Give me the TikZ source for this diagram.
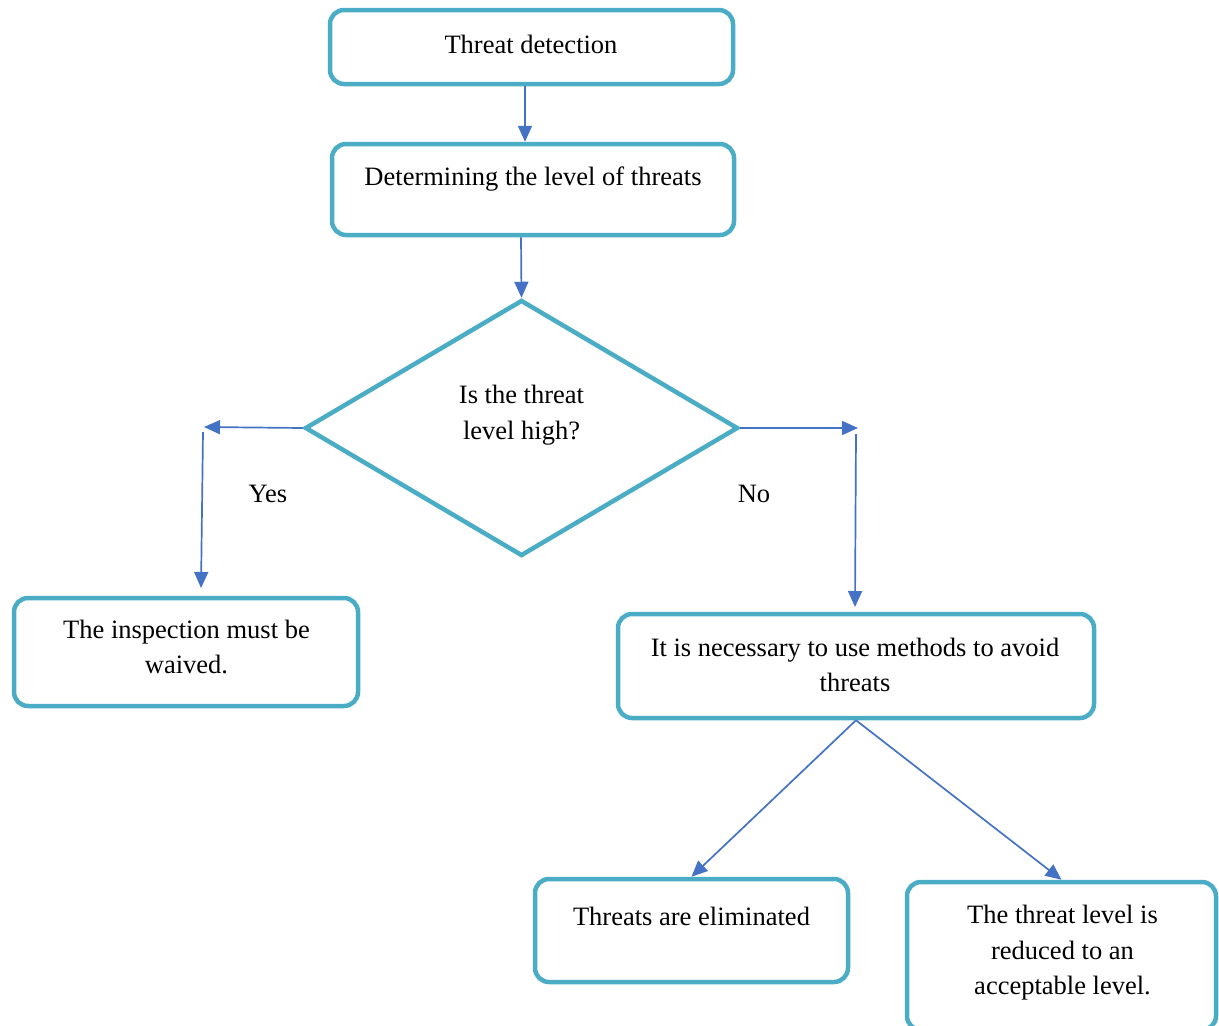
\documentclass[tikz,border=0pt]{standalone}
\usepackage{fontspec}
\setmainfont{Liberation Serif}
\usetikzlibrary{shapes.geometric, arrows.meta}

\definecolor{boxteal}{HTML}{4BACC6}
\definecolor{arrowblue}{HTML}{4472C4}

\tikzset{
  flowbox/.style = {draw=boxteal, line width=4.5pt, rounded corners=14pt, inner sep=0pt},
  decision/.style = {diamond, draw=boxteal, line width=4.5pt, inner sep=0pt},
  boxtext/.style = {align=center, inner sep=0pt, font=\fontsize{26.5}{35.5}\selectfont},
  flowarrow/.style = {draw=arrowblue, line width=1.7pt, -{Triangle[length=16pt, width=14pt]}}
}

\begin{document}
\begin{tikzpicture}[x=1pt, y=-1pt]

   \useasboundingbox (0,0) rectangle (1219,1026);
   \clip (0,0) rectangle (1219,1026);

   % Draw the boxes
   \node[flowbox, minimum width=403pt, minimum height=74pt] (detect) at (531.5,47) {};
   \node[flowbox, minimum width=402pt, minimum height=91pt] (level) at (533,189.5) {};
   \node[decision, minimum width=433pt, minimum height=256pt] (question) at (521.5,428) {};
   \node[flowbox, minimum width=344pt, minimum height=108pt] (inspect) at (186,652) {};
   \node[flowbox, minimum width=476pt, minimum height=104pt] (methods) at (856,666) {};
   \node[flowbox, minimum width=313pt, minimum height=103pt] (eliminated) at (691.5,930.5) {};
   \node[flowbox, minimum width=309pt, minimum height=148pt] (reduced) at (1061.5,956) {};

   % Texts in the boxes
   \node[boxtext] (detect-t) at (531,44) {Threat detection};
   \node[boxtext] (level-t) at (533,179) {Determining the level of threats};
   \node[boxtext] (question-t) at (521.5,415) {Is the threat\\level high?};
   \node[boxtext] (inspect-t) at (186.5,647) {The inspection must be\\waived.};
   \node[boxtext] (methods-t) at (855,665) {It is necessary to use methods to avoid\\threats};
   \node[boxtext] (eliminated-t) at (691.5,916) {Threats are eliminated};
   \node[boxtext] (reduced-t) at (1062.5,953) {The threat level is\\reduced to an\\acceptable level.};

   % Label the branches
   \node[boxtext] (yes) at (268,494) {Yes};
   \node[boxtext] (no) at (754,494) {No};

   % Free ends of the branch arrows
   \coordinate (yes-end) at (204,427);
   \coordinate (yes-top) at (203,432);
   \coordinate (yes-low) at (201,588);
   \coordinate (no-end) at (858,428);
   \coordinate (no-top) at (856,434);
   \coordinate (no-low) at (855,607);

   % Draw the arrows
   \draw[flowarrow] ([xshift=-6.5pt]detect.south) -- ([xshift=-8pt]level.north);
   \draw[flowarrow] ([xshift=-12pt]level.south) -- (question.north);
   \draw[flowarrow] (question.west) -- (yes-end);
   \draw[flowarrow] (yes-top) -- (yes-low);
   \draw[flowarrow] (question.east) -- (no-end);
   \draw[flowarrow] (no-top) -- (no-low);
   \draw[flowarrow] (methods.south) -- (eliminated.north);
   \draw[flowarrow] (methods.south) -- (reduced.north);

\end{tikzpicture}
\end{document}
